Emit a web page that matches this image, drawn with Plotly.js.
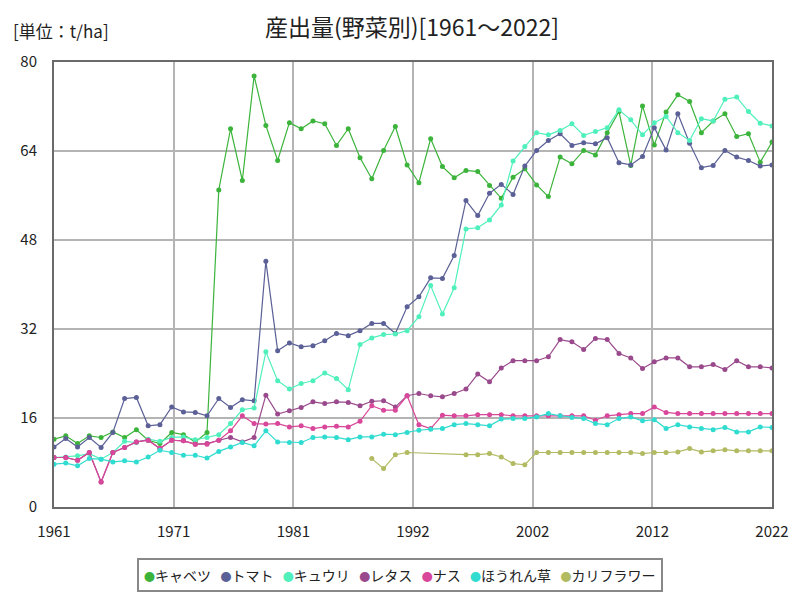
<!DOCTYPE html>
<html>
<head>
<meta charset="utf-8">
<script src="https://cdn.plot.ly/plotly-3.0.1.min.js"></script>
<style>html,body{margin:0;padding:0;background:#fff;}#chart{width:800px;height:600px;}</style>
</head>
<body>
<div id="chart"></div>
<script>
const years = [1961,1962,1963,1964,1965,1966,1967,1968,1969,1970,
1971,1972,1973,1974,1975,1976,1977,1978,1979,1980,
1981,1982,1983,1984,1985,1986,1987,1988,1989,1990,
1991,1992,1993,1994,1995,1996,1997,1998,1999,2000,
2001,2002,2003,2004,2005,2006,2007,2008,2009,2010,
2011,2012,2013,2014,2015,2016,2017,2018,2019,2020,
2021,2022];

const cabbage = [12.2,12.8,11.4,12.8,12.5,13.5,12.5,13.9,12.0,11.4,
13.4,13.0,11.7,13.4,57.0,68.0,58.7,77.5,68.6,62.3,
69.1,68.0,69.4,68.9,65.0,68.0,62.8,59.0,64.1,68.4,
61.5,58.3,66.2,61.2,59.2,60.5,60.3,57.8,55.5,59.3,
60.8,57.9,55.8,62.9,61.7,64.1,63.3,67.3,71.1,61.4,
72.1,65.1,71.0,74.1,72.9,67.3,69.4,70.7,66.6,67.1,
62.0,65.6];

const tomato = [10.8,12.3,10.8,12.5,10.7,13.4,19.5,19.7,14.6,14.8,
18.0,17.1,17.0,16.4,19.5,17.9,19.3,19.1,44.2,28.1,
29.5,28.8,29.0,29.9,31.2,30.8,31.7,33.0,33.0,31.2,
36.0,37.8,41.2,41.1,45.2,55.1,52.4,56.4,58.0,56.2,
61.3,64.1,65.9,67.1,65.0,65.5,65.3,66.4,61.9,61.5,
63.0,68.2,64.2,70.7,65.4,61.0,61.4,64.1,62.9,62.3,
61.3,61.5];

const cucumber = [8.9,9.0,9.2,9.6,8.6,9.8,11.8,11.6,12.2,11.8,
12.5,12.6,12.1,12.5,13.0,15.0,17.5,17.8,27.9,22.7,
21.2,22.2,22.7,24.1,23.1,21.1,29.2,30.4,31.0,31.1,
31.7,34.2,39.8,34.7,39.4,50.0,50.2,51.6,54.3,62.2,
64.8,67.3,66.9,67.7,68.9,66.8,67.5,68.2,71.4,69.6,
66.9,69.1,70.2,67.3,65.9,69.8,69.4,73.3,73.7,71.1,
69.0,68.5];

const lettuce = [8.9,8.9,8.4,9.8,4.5,9.8,10.7,11.7,12.0,10.5,
12.0,11.9,11.3,11.4,12.0,12.5,11.7,12.5,20.1,16.7,
17.3,17.9,18.9,18.6,18.9,18.8,18.2,19.0,19.1,18.0,
20.0,20.4,20.0,19.8,20.4,21.2,23.9,22.5,25.0,26.3,
26.3,26.3,27.0,30.1,29.7,28.3,30.3,30.1,27.6,26.8,
24.9,26.1,26.8,26.8,25.2,25.2,25.6,24.7,26.3,25.2,
25.2,25.0];

const eggplant = [8.9,8.9,8.4,9.8,4.5,9.8,10.7,11.7,12.0,10.5,
12.0,11.9,11.3,11.3,12.0,13.7,16.4,15.0,14.9,15.0,
14.4,14.6,14.1,14.4,14.5,14.4,15.4,18.2,17.4,17.4,
20.0,14.8,14.1,16.5,16.4,16.4,16.6,16.6,16.6,16.4,
16.4,16.4,16.4,16.4,16.4,16.4,15.6,16.4,16.6,16.8,
16.8,18.0,17.0,16.8,16.8,16.8,16.8,16.8,16.8,16.8,
16.8,16.8];

const spinach = [7.7,7.9,7.4,8.7,8.6,8.1,8.3,8.1,9.0,10.2,
9.8,9.3,9.3,8.8,10.0,10.8,11.6,11.0,13.7,11.7,
11.6,11.6,12.5,12.6,12.5,12.1,12.6,12.6,13.1,13.0,
13.4,13.8,14.0,14.1,14.8,15.0,14.8,14.6,15.8,15.9,
15.9,16.2,16.8,16.4,16.1,15.9,15.0,14.8,15.9,16.2,
15.5,15.7,14.1,14.8,14.4,14.1,13.9,14.3,13.5,13.5,
14.4,14.3];

const cauliflower = [null,null,null,null,null,null,null,null,null,null,
null,null,null,null,null,null,null,null,null,null,
null,null,null,null,null,null,null,8.7,6.9,9.4,
9.8,null,null,null,null,9.4,9.4,9.6,9.0,7.8,
7.6,9.8,9.8,9.8,9.8,9.8,9.8,9.8,9.8,9.8,
9.6,9.8,9.8,9.9,10.5,9.9,10.1,10.3,10.1,10.1,
10.1,10.1];

const seriesNames = ['キャベツ','トマト','キュウリ','レタス','ナス','ほうれん草','カリフラワー'];
const seriesData = [cabbage, tomato, cucumber, lettuce, eggplant, spinach, cauliflower];
const seriesColors = ['#3cb43c','#5b6096','#50f0bc','#9a4a8c','#d8479a','#30dcd0','#b2ba62'];

const xTickLabels = ['1961','1971','1981','1992','2002','2012','2022'];
const xTickVals = xTickLabels.map((_, i) => 1961 + i * 61 / 6);

const traces = seriesNames.map((name, i) => ({
  x: years, y: seriesData[i], name: name, type: 'scatter', mode: 'lines+markers',
  connectgaps: true, showlegend: false,
  line: {color: seriesColors[i], width: 1.2},
  marker: {color: seriesColors[i], size: 5}
}));

// legend drawn as one bordered text box: colored dot + series name
const legendText = seriesNames.map((name, i) =>
  '<span style="color:' + seriesColors[i] + ';font-size:11px">●</span>' + name).join('&nbsp;&nbsp;&nbsp;');

const font = 'Noto Sans CJK JP, sans-serif';
const layout = {
  width: 800, height: 600,
  margin: {l: 54, r: 28, t: 62, b: 93},
  paper_bgcolor: '#fff', plot_bgcolor: '#fff',
  font: {family: font, color: '#222', size: 15},
  title: {text: '産出量(野菜別)[1961～2022]', x: 0.515, xanchor: 'center', y: 0.953, yanchor: 'middle',
          font: {family: font, size: 23, color: '#222'}},
  showlegend: false,
  xaxis: {range: [1961, 2022], tickmode: 'array', tickvals: xTickVals, ticktext: xTickLabels,
          showgrid: true, gridcolor: '#b4b4b4', gridwidth: 2, zeroline: false,
          showline: true, linecolor: '#6a6a6a', linewidth: 2, mirror: true,
          ticks: 'outside', ticklen: 10, tickcolor: 'rgba(0,0,0,0)',
          tickfont: {family: font, size: 15, color: '#222'}},
  yaxis: {range: [0, 80], tickmode: 'array', tickvals: [0,16,32,48,64,80],
          showgrid: true, gridcolor: '#b4b4b4', gridwidth: 2, zeroline: false,
          showline: true, linecolor: '#6a6a6a', linewidth: 2, mirror: true,
          ticks: 'outside', ticklen: 12, tickcolor: 'rgba(0,0,0,0)',
          tickfont: {family: font, size: 15, color: '#222'}},
  annotations: [
    {text: '[単位：t/ha]', xref: 'paper', yref: 'paper', x: -0.06, xanchor: 'left',
     y: 1.07, yanchor: 'middle', showarrow: false, font: {family: font, size: 17, color: '#222'}},
    {text: legendText, xref: 'paper', yref: 'paper', x: 0.482, xanchor: 'center',
     y: -0.152, yanchor: 'middle', showarrow: false, bordercolor: '#888', borderwidth: 2,
     borderpad: 5, bgcolor: '#fff', font: {family: font, size: 14, color: '#222'}}
  ]
};

Plotly.newPlot('chart', traces, layout, {displayModeBar: false, staticPlot: true});
</script>
</body>
</html>
